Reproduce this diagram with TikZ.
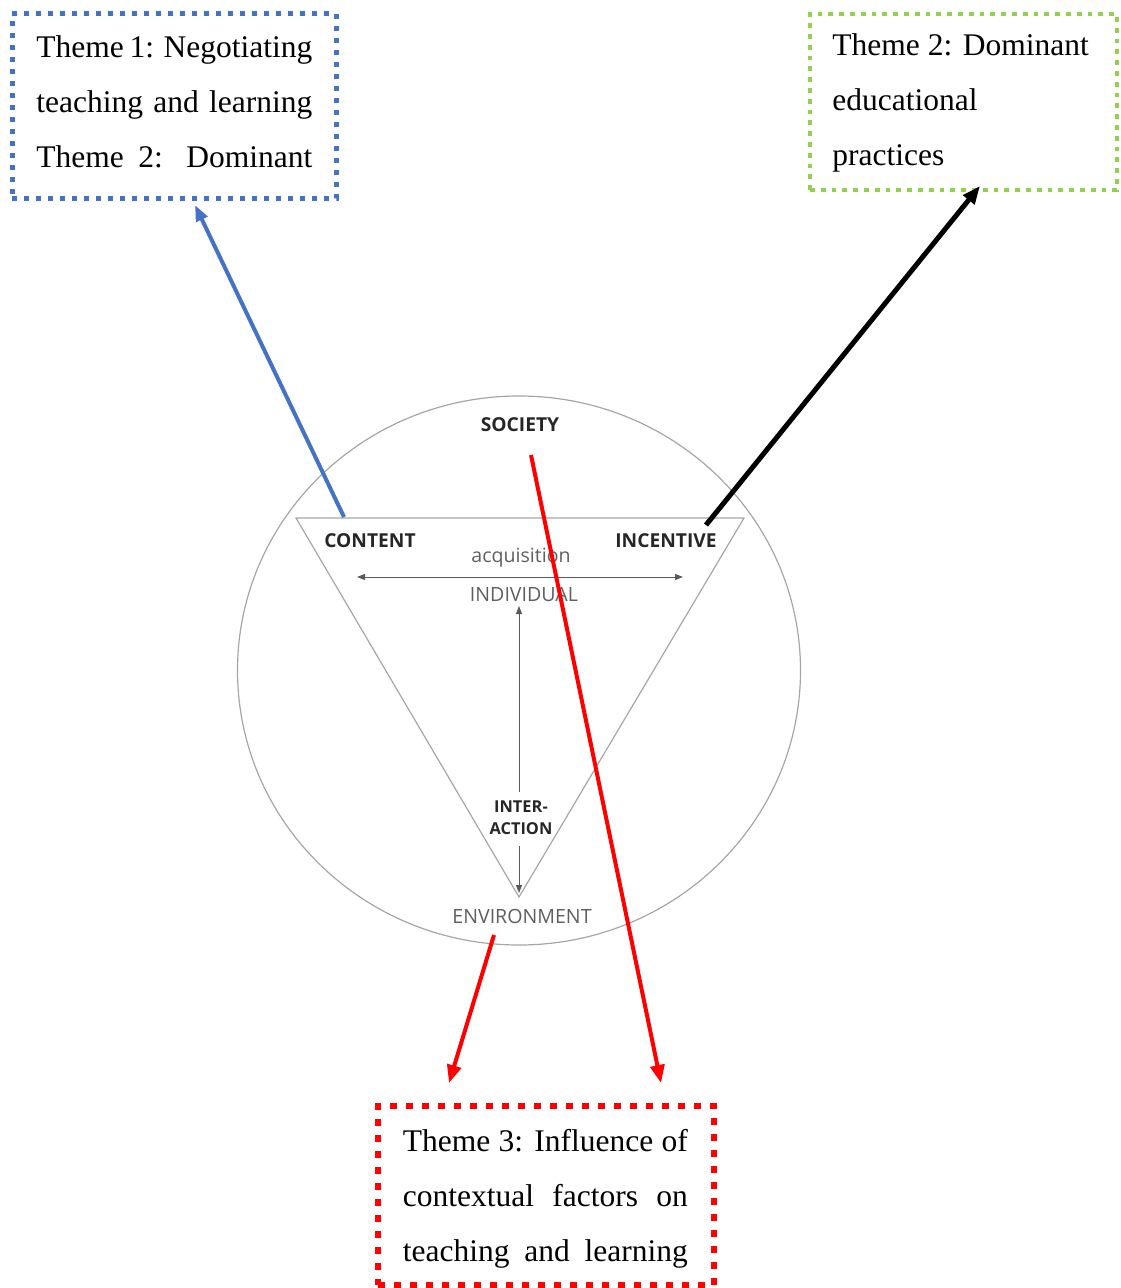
\documentclass[tikz,border=0pt]{standalone}
\usepackage{fontspec}
\setmainfont{Liberation Serif}
\newfontfamily\labelfont{Open Sans}
\usetikzlibrary{arrows.meta}
\definecolor{themeblue}{HTML}{4472C4}
\definecolor{themegreen}{HTML}{92D050}
\definecolor{themered}{HTML}{FF0000}
\definecolor{modelline}{HTML}{A6A6A6}
\definecolor{modelarrow}{HTML}{5A5A5A}
\definecolor{modeltext}{HTML}{5F5F5F}
\definecolor{modelbold}{HTML}{262626}
% one justified line of box text
\newcommand{\jline}[2]{\makebox[#1][s]{#2}}
\begin{document}
\begin{tikzpicture}[x=0.5pt,y=-0.5pt,
  themebox/.style={inner sep=0pt, line cap=butt},
  themetext/.style={inner sep=0pt, anchor=north west, align=left,
    font=\fontsize{15.75}{27.5}\selectfont},
  boldlabel/.style={inner sep=0pt, text=modelbold, font=\labelfont\bfseries\fontsize{9.6}{11}\selectfont},
  greylabel/.style={inner sep=0pt, text=modeltext, font=\labelfont\fontsize{9.8}{11}\selectfont},
  smallbold/.style={inner sep=0pt, text=modelbold, align=center, font=\labelfont\bfseries\fontsize{8.2}{11.2}\selectfont},
  modeltip/.style={-{Triangle[length=4pt,width=3pt]}},
  themearrow/.style={line width=2pt, -{Triangle[length=9pt,width=7pt]}}
]
\useasboundingbox (0,0) rectangle (1120,1288);

% ---- the model: circle and inverted triangle ----
\draw[modelline, line width=0.6pt] (519,670.5) ellipse [x radius=140.75pt, y radius=137.25pt];
\coordinate (tl) at (296,518);
\coordinate (tr) at (744,518);
\coordinate (bot) at (519,897);
\draw[modelline, line width=0.6pt] (tl) -- (tr) -- (bot) -- cycle;

\node[boldlabel] (society) at (520,425) {SOCIETY};
\node[boldlabel] (content) at (370,541) {CONTENT};
\node[boldlabel] (incentive) at (666,541) {INCENTIVE};
\node[greylabel] (acq) at (521,558) {acquisition};
\node[greylabel] (indiv) at (524,595) {INDIVIDUAL};
\node[smallbold] (inter) at (521,818) {INTER-\\ACTION};
\node[greylabel] (env) at (522,916) {ENVIRONMENT};

\coordinate (hl) at (357,577);
\coordinate (hr) at (683,577);
\draw[modelarrow, line width=0.5pt, {Triangle[length=4pt,width=3pt]}-{Triangle[length=4pt,width=3pt]}] (hl) -- (hr);
\coordinate (upend) at (519,606);
\coordinate (upstart) at (519,792);
\coordinate (downstart) at (519,846);
\coordinate (downend) at (519,893);
\draw[modelarrow, line width=0.5pt, modeltip] (upstart) -- (upend);
\draw[modelarrow, line width=0.5pt, modeltip] (downstart) -- (downend);

% ---- theme boxes ----
\node[themebox, draw=themeblue, line width=2.5pt, dash pattern=on 2.5pt off 3.5pt,
  minimum width=162pt, minimum height=92.5pt] (box1) at (174,106.5) {};
\node[themetext] (text1) at (36,35.5) {%
  \jline{138pt}{Theme 1: Negotiating}\\
  \jline{138pt}{teaching and learning}\\
  \jline{138pt}{Theme 2: Dominant}};

\node[themebox, draw=themegreen, line width=2.25pt, dash pattern=on 2.4pt off 3pt,
  minimum width=153.5pt, minimum height=88pt] (box2) at (963.5,102) {};
\node[themetext] (text2) at (832,33.5) {Theme 2: Dominant\\educational\\practices};

\node[themebox, draw=themered, line width=3.25pt, dash pattern=on 3.5pt off 4.5pt,
  minimum width=168pt, minimum height=89.5pt] (box3) at (546,1195.5) {};
\node[themetext] (text3) at (402.5,1128.5) {%
  \jline{142.5pt}{Theme 3: Influence of}\\
  \jline{142.5pt}{contextual factors on}\\
  \jline{142.5pt}{teaching and learning}};

% ---- connectors from the model to the themes ----
\coordinate (a1s) at (344,517);
\coordinate (a1e) at (195,205);
\coordinate (a2s) at (706,525);
\coordinate (a2e) at (980,186);
\coordinate (a3s) at (494,935);
\coordinate (a3e) at (449,1083);
\coordinate (a4s) at (531,455);
\coordinate (a4e) at (661,1083);
\draw[themearrow, themeblue, -{Triangle[length=8pt,width=6pt]}] (a1s) -- (a1e);
\draw[themearrow, black, line width=2.5pt] (a2s) -- (a2e);
\draw[themearrow, themered] (a3s) -- (a3e);
\draw[themearrow, themered] (a4s) -- (a4e);
\end{tikzpicture}
\end{document}
